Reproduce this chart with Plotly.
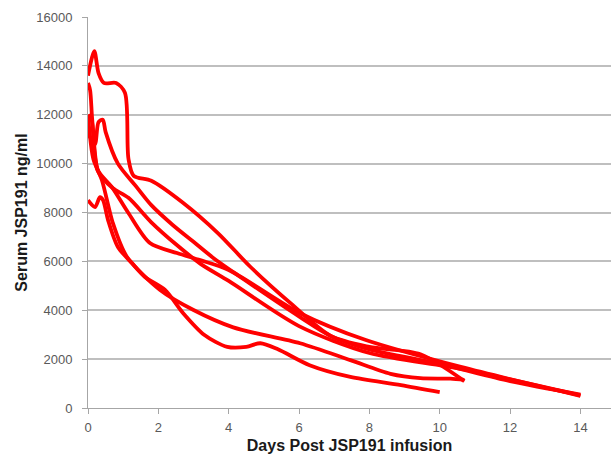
import plotly.graph_objects as go

# Patient curves (days, serum JSP191 ng/ml)
p1_days = [0, 0.18, 0.3, 0.45, 0.8, 1.05, 1.15, 1.3, 1.8, 2.7, 3.7, 4.6, 5.75, 6.9, 8, 9.45, 10.7]
p1_vals = [13600, 14600, 13700, 13300, 13300, 12900, 10200, 9500, 9300, 8400, 7150, 5800, 4300, 2950, 2500, 2200, 1100]

p2_days = [0, 0.06, 0.12, 0.28, 0.7, 1.15, 1.8, 2.5, 3.2, 4.0, 6.0, 8.0, 10.6, 14]
p2_vals = [13300, 13000, 11800, 9700, 9000, 8600, 7600, 6700, 5900, 5200, 3350, 2250, 1600, 520]

p3_days = [0, 0.1, 0.2, 0.3, 0.42, 0.5, 0.85, 1.35, 1.8, 2.4, 3.0, 3.6, 4.6, 6.03, 6.9, 8, 10, 12, 14]
p3_vals = [11200, 11000, 10800, 11700, 11800, 11300, 10000, 9100, 8300, 7500, 6800, 6100, 5100, 3720, 2950, 2400, 1800, 1100, 550]

p4_days = [0, 0.15, 0.4, 0.7, 1.1, 2.05, 3.0, 4.13, 6.03, 7.46, 8.6, 9.45, 10.3, 10.7]
p4_vals = [12000, 10200, 9300, 7600, 6200, 4830, 4010, 3300, 2650, 1960, 1400, 1220, 1200, 1150]

p5_days = [0, 0.2, 0.34, 0.43, 0.57, 0.85, 1.25, 1.62, 2.19, 2.7, 3.3, 3.96, 4.5, 4.9, 5.4, 6.3, 7.46, 8.9, 10]
p5_vals = [8500, 8220, 8630, 8500, 7690, 6590, 5930, 5360, 4830, 3890, 3000, 2500, 2500, 2650, 2400, 1750, 1270, 940, 650]

p6_days = [0, 0.1, 0.28, 0.68, 1.14, 1.76, 2.53, 3.19, 4.0, 6.03, 7.9, 10.6, 14]
p6_vals = [12000, 11800, 9740, 9040, 8000, 6750, 6340, 6050, 5650, 3880, 2780, 1680, 500]

series = [(p1_days, p1_vals), (p2_days, p2_vals), (p3_days, p3_vals),
          (p4_days, p4_vals), (p5_days, p5_vals), (p6_days, p6_vals)]

x_ticks = [0, 2, 4, 6, 8, 10, 12, 14]
y_ticks = [0, 2000, 4000, 6000, 8000, 10000, 12000, 14000, 16000]

fig = go.Figure()
for d, v in series:
    fig.add_trace(go.Scatter(x=d, y=v, mode="lines",
                             line=dict(color="#ff0000", width=3.8, shape="spline", smoothing=0.8),
                             showlegend=False, hoverinfo="skip"))

axis_font = dict(family="Liberation Sans, Arial, sans-serif", size=13, color="#595959")
title_font = dict(family="Liberation Sans, Arial, sans-serif", size=16, color="#1a1a1a")

fig.update_layout(
    width=611, height=465,
    margin=dict(l=88, r=0, t=17, b=57),
    paper_bgcolor="white", plot_bgcolor="white",
    xaxis=dict(range=[0, 14.87], tickvals=x_ticks, ticktext=[str(t) for t in x_ticks],
               showgrid=False, zeroline=False, showline=True, linecolor="#a6a6a6", linewidth=1,
               ticks="outside", ticklen=5, tickcolor="#a6a6a6", tickfont=axis_font,
               ticklabelstandoff=2,
               title=dict(text="<b>Days Post JSP191 infusion</b>", font=title_font, standoff=6)),
    yaxis=dict(range=[0, 16000], tickvals=y_ticks, ticktext=[str(t) for t in y_ticks],
               showgrid=True, gridcolor="#bfbfbf", gridwidth=1.5, zeroline=False,
               showline=True, linecolor="#a6a6a6", linewidth=1,
               ticks="outside", ticklen=5, tickcolor="#a6a6a6", tickfont=axis_font,
               ticklabelstandoff=7,
               title=dict(text="<b>Serum JSP191 ng/ml</b>", font=title_font, standoff=4)),
)

fig.write_html("out.html")
